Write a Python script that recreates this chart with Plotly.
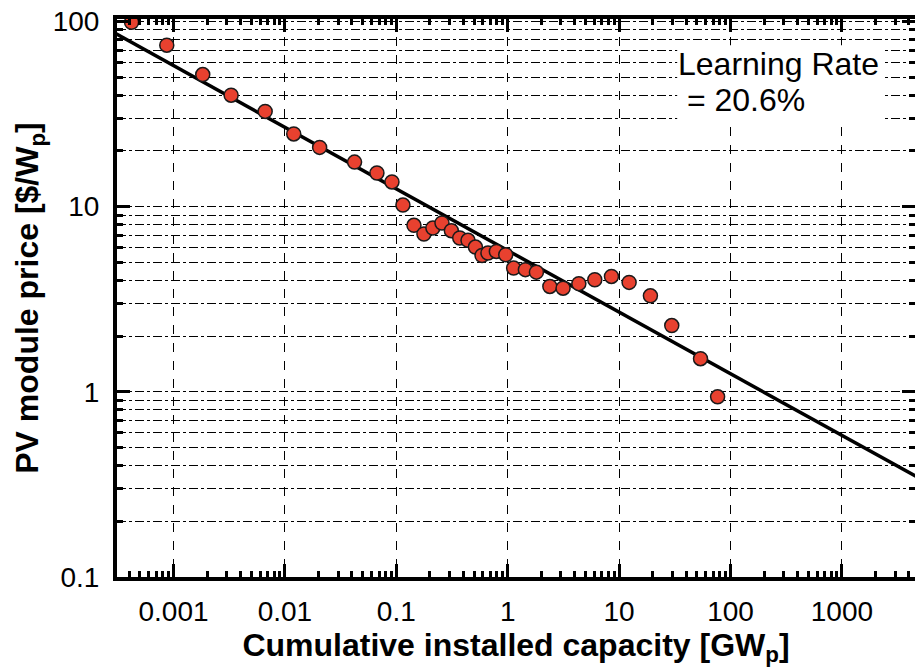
import numpy as np
import plotly.graph_objects as go

# ---- data ----
capacity_gw = [0.00042, 0.00087, 0.00183, 0.00329, 0.00665, 0.0120, 0.0205, 0.0422,
               0.067, 0.0914, 0.1147, 0.144, 0.177, 0.213, 0.257, 0.312, 0.371,
               0.440, 0.513, 0.588, 0.665, 0.791, 0.96, 1.13, 1.44, 1.81, 2.39,
               3.14, 4.35, 6.05, 8.54, 12.3, 19.1, 29.7, 53.8, 76.6]
price_usd_wp = [99.0, 74.5, 51.7, 40.0, 32.7, 24.7, 20.9, 17.4,
                15.2, 13.6, 10.2, 7.93, 7.12, 7.67, 8.16, 7.42, 6.77,
                6.58, 6.05, 5.45, 5.62, 5.73, 5.5, 4.66, 4.57, 4.43, 3.71,
                3.63, 3.84, 4.03, 4.20, 3.90, 3.30, 2.28, 1.51, 0.94]

learning_rate = 0.206
price_at_1gw = 5.8
fit_capacity = [0.0003, 10000]

x_tick_vals = [0.001, 0.01, 0.1, 1, 10, 100, 1000]
x_tick_text = ["0.001", "0.01", "0.1", "1", "10", "100", "1000"]
y_tick_vals = [0.1, 1, 10, 100]
y_tick_text = ["0.1", "1", "10", "100"]

annotation_lines = ["Learning Rate", "\u00a0= 20.6%"]

# ---- derived ----
b = np.log2(1 - learning_rate)
fit_price = [price_at_1gw * c ** b for c in fit_capacity]

x_minor = [m * 10.0 ** e for e in range(-4, 4) for m in range(2, 10)]
y_minor = [m * 10.0 ** e for e in range(-1, 2) for m in range(2, 10)]

FONT = "Liberation Sans, Arial, sans-serif"

fig = go.Figure()
fig.add_trace(go.Scatter(
    x=fit_capacity, y=fit_price, mode="lines",
    line=dict(color="black", width=3.5), showlegend=False, hoverinfo="skip"))
fig.add_trace(go.Scatter(
    x=capacity_gw, y=price_usd_wp, mode="markers",
    marker=dict(size=14, color="#E8412F", line=dict(color="#1a1a1a", width=1.5)),
    showlegend=False))

# white box behind the learning-rate text
fig.add_shape(type="rect", xref="paper", yref="paper",
              x0=0.702, x1=0.959, y0=0.817, y1=0.953,
              fillcolor="white", line=dict(width=0), layer="above")
fig.add_annotation(text=annotation_lines[0], xref="paper", yref="paper",
                   x=0.701, y=0.919, xanchor="left", yanchor="middle",
                   showarrow=False, font=dict(family=FONT, size=32, color="black"))
fig.add_annotation(text=annotation_lines[1], xref="paper", yref="paper",
                   x=0.701, y=0.854, xanchor="left", yanchor="middle",
                   showarrow=False, font=dict(family=FONT, size=32, color="black"))

axis_common = dict(
    showline=True, linecolor="black", linewidth=4, mirror="ticks",
    ticks="inside", ticklen=13, tickwidth=3, tickcolor="black",
    tickfont=dict(family=FONT, size=28, color="black"),
    zeroline=False, ticklabeloverflow="allow",
)

fig.update_xaxes(
    type="log", range=[np.log10(0.000311), np.log10(4530)],
    tickmode="array", tickvals=x_tick_vals, ticktext=x_tick_text,
    showgrid=True, gridcolor="black", gridwidth=1, griddash="dash",
    minor=dict(tickmode="array", tickvals=x_minor, ticks="inside", ticklen=6,
               tickwidth=3, tickcolor="black", showgrid=False),
    title=dict(text="<b>Cumulative installed capacity [GW<sub>p</sub>]</b>",
               font=dict(family=FONT, size=32, color="black"), standoff=2),
    ticklabelstandoff=6,
    **axis_common)

fig.update_yaxes(
    type="log", range=[-1.0, 2.0135],
    tickmode="array", tickvals=y_tick_vals, ticktext=y_tick_text,
    showgrid=True, gridcolor="black", gridwidth=1, griddash="dashdot",
    minor=dict(tickmode="array", tickvals=y_minor, ticks="inside", ticklen=6,
               tickwidth=3, tickcolor="black", showgrid=True,
               gridcolor="black", gridwidth=1, griddash="dashdot"),
    title=dict(text="<b>PV module price [$/W<sub>p</sub>]</b>",
               font=dict(family=FONT, size=32, color="black"), standoff=5),
    ticklabelstandoff=8,
    **axis_common)

fig.update_layout(
    width=915, height=669,
    margin=dict(l=117, r=0, t=19, b=92, autoexpand=False),
    plot_bgcolor="white", paper_bgcolor="white",
)

fig.write_html("out.html", config={"displayModeBar": False},
               post_script="document.body.style.margin='0';")
